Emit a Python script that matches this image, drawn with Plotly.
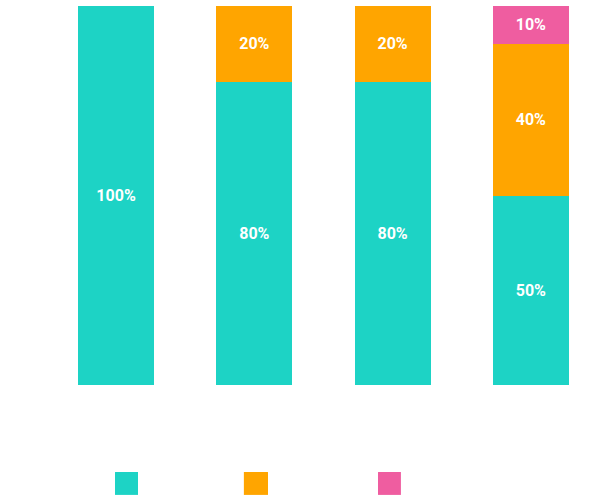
import plotly.graph_objects as go

categories = ["A", "B", "C", "D"]
series_names = ["Series 1", "Series 2", "Series 3"]
series_values = [
    [100, 80, 80, 50],
    [0, 20, 20, 40],
    [0, 0, 0, 10],
]
colors = ["#1DD3C5", "#FFA500", "#EF5DA0"]

fig = go.Figure()
for name, vals, color in zip(series_names, series_values, colors):
    fig.add_trace(go.Bar(
        x=categories, y=vals, name=name,
        marker=dict(color=color, line=dict(width=0)),
        text=[f"{v}%" if v else "" for v in vals],
        textposition="inside", insidetextanchor="middle",
        textfont=dict(family="Roboto", size=16, color="white", weight="bold"),
    ))

# legend swatches (no labels in the reference)
legend_x = [(0.123, 0.1646), (0.356, 0.3996), (0.5986, 0.640)]
for (x0, x1), color in zip(legend_x, colors):
    fig.add_shape(type="rect", xref="paper", yref="paper",
                  x0=x0, x1=x1, y0=-0.290, y1=-0.2296,
                  fillcolor=color, line=dict(width=0))

fig.update_layout(
    barmode="stack", bargap=0.45,
    width=600, height=501,
    margin=dict(l=47, r=0, t=6, b=116),
    showlegend=False,
    plot_bgcolor="white", paper_bgcolor="white",
    font=dict(family="Roboto"),
)
fig.update_xaxes(showticklabels=False, showgrid=False, zeroline=False, showline=False)
fig.update_yaxes(range=[0, 100], showticklabels=False, showgrid=False,
                 zeroline=False, showline=False)

# page has a default 8px body margin; drop it so the figure sits at 0,0
fig.write_html("out.html", config={"displayModeBar": False},
               post_script="document.body.style.margin='0';")
